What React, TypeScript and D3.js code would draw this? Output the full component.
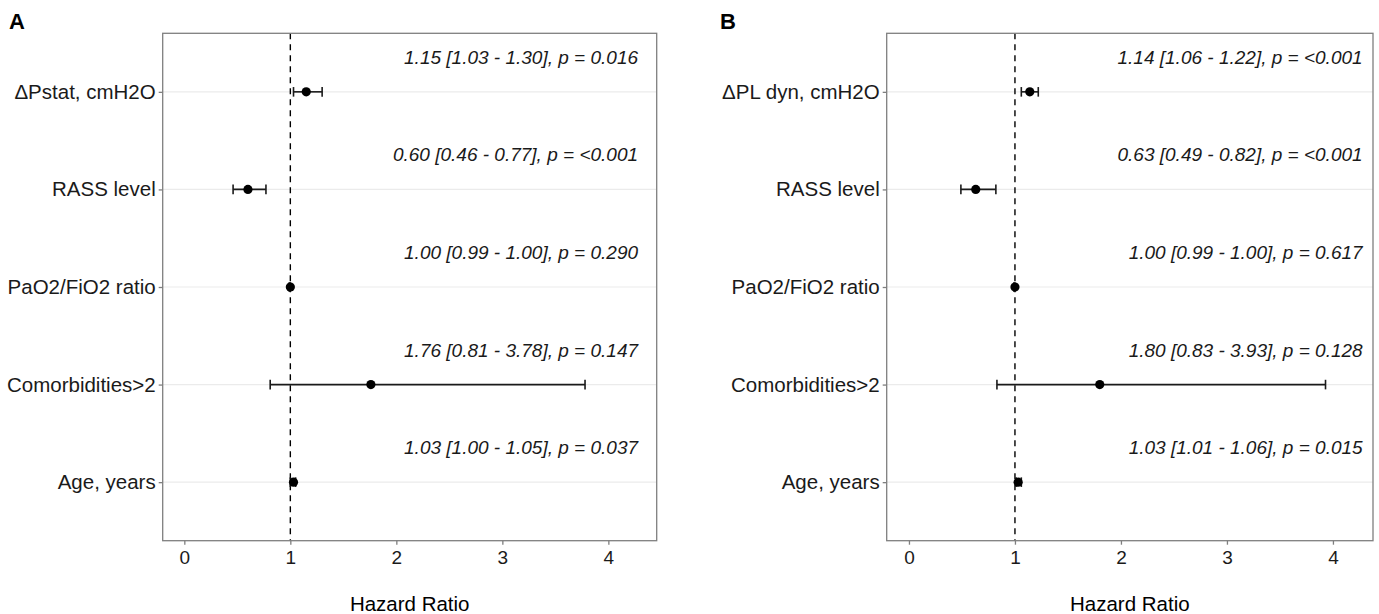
import React, { useEffect, useRef } from 'react';
import * as d3 from 'd3';

// variables, top to bottom
const labelsA = ['ΔPstat, cmH2O', 'RASS level', 'PaO2/FiO2 ratio', 'Comorbidities>2', 'Age, years'];
const labelsB = ['ΔPL dyn, cmH2O', 'RASS level', 'PaO2/FiO2 ratio', 'Comorbidities>2', 'Age, years'];

const hrA = [1.15, 0.60, 1.00, 1.76, 1.03];
const lowA = [1.03, 0.46, 0.99, 0.81, 1.00];
const highA = [1.30, 0.77, 1.00, 3.78, 1.05];
const pA = ['0.016', '<0.001', '0.290', '0.147', '0.037'];

const hrB = [1.14, 0.63, 1.00, 1.80, 1.03];
const lowB = [1.06, 0.49, 0.99, 0.83, 1.01];
const highB = [1.22, 0.82, 1.00, 3.93, 1.06];
const pB = ['<0.001', '<0.001', '0.617', '0.128', '0.015'];

const xTicks = [0, 1, 2, 3, 4];

const W = 1379;
const H = 614;

const font = 'Liberation Sans, Arial, Helvetica, sans-serif';

const drawPanel = (svg, opts) => {
  const { letter, letterX, left, right, domain, labels, hr, low, high, p } = opts;
  const top = 33.3;
  const bottom = 540.7;

  const x = d3.scaleLinear().domain(domain).range([left, right]);
  const y = d3.scalePoint().domain(labels).range([top, bottom]).padding(0.6);

  const g = svg.append('g');

  // panel letter
  g.append('text')
    .attr('x', letterX)
    .attr('y', 29)
    .attr('font-family', font)
    .attr('font-weight', 'bold')
    .attr('font-size', 22)
    .text(letter);

  // gridlines
  g.selectAll('.grid')
    .data(labels)
    .enter()
    .append('line')
    .attr('x1', left)
    .attr('x2', right)
    .attr('y1', d => y(d))
    .attr('y2', d => y(d))
    .attr('stroke', '#ebebeb')
    .attr('stroke-width', 1.2);

  // reference line at HR = 1
  g.append('line')
    .attr('x1', x(1))
    .attr('x2', x(1))
    .attr('y1', top)
    .attr('y2', bottom)
    .attr('stroke', '#000')
    .attr('stroke-width', 1.4)
    .attr('stroke-dasharray', '6,5');

  const rows = labels.map((l, i) => ({ label: l, hr: hr[i], low: low[i], high: high[i], p: p[i] }));

  // error bars
  const eb = g.selectAll('.eb').data(rows).enter().append('g')
    .attr('stroke', '#1a1a1a')
    .attr('stroke-width', 1.6);
  eb.append('line')
    .attr('x1', d => x(d.low))
    .attr('x2', d => x(d.high))
    .attr('y1', d => y(d.label))
    .attr('y2', d => y(d.label));
  eb.append('line')
    .attr('x1', d => x(d.low))
    .attr('x2', d => x(d.low))
    .attr('y1', d => y(d.label) - 4.8)
    .attr('y2', d => y(d.label) + 4.8);
  eb.append('line')
    .attr('x1', d => x(d.high))
    .attr('x2', d => x(d.high))
    .attr('y1', d => y(d.label) - 4.8)
    .attr('y2', d => y(d.label) + 4.8);
  eb.append('circle')
    .attr('cx', d => x(d.hr))
    .attr('cy', d => y(d.label))
    .attr('r', 4.6)
    .attr('stroke', 'none')
    .attr('fill', '#000');

  // annotations
  g.selectAll('.ann')
    .data(rows)
    .enter()
    .append('text')
    .attr('x', x(4.28))
    .attr('y', d => y(d.label) - 28)
    .attr('text-anchor', 'end')
    .attr('font-family', font)
    .attr('font-style', 'italic')
    .attr('font-size', 19)
    .attr('fill', '#1a1a1a')
    .text(d => `${d.hr.toFixed(2)} [${d.low.toFixed(2)} - ${d.high.toFixed(2)}], p = ${d.p}`);

  // panel border
  g.append('rect')
    .attr('x', left)
    .attr('y', top)
    .attr('width', right - left)
    .attr('height', bottom - top)
    .attr('fill', 'none')
    .attr('stroke', '#7f7f7f')
    .attr('stroke-width', 1.3);

  // x axis
  const xa = g.append('g')
    .attr('transform', `translate(0, ${bottom})`)
    .call(d3.axisBottom(x).tickValues(xTicks).tickSize(4).tickPadding(6).tickFormat(d3.format('d')));
  xa.select('.domain').remove();
  xa.selectAll('line').attr('stroke', '#7f7f7f').attr('stroke-width', 1.3);
  xa.selectAll('text')
    .attr('font-family', font)
    .attr('font-size', 19)
    .attr('fill', '#1a1a1a');

  // y axis
  const ya = g.append('g')
    .attr('transform', `translate(${left}, 0)`)
    .call(d3.axisLeft(y).tickSize(4).tickPadding(3));
  ya.select('.domain').remove();
  ya.selectAll('line').attr('stroke', '#7f7f7f').attr('stroke-width', 1.3);
  ya.selectAll('text')
    .attr('font-family', font)
    .attr('font-size', 20.5)
    .attr('fill', '#1a1a1a');

  // x axis title
  g.append('text')
    .attr('x', (left + right) / 2)
    .attr('y', 611)
    .attr('text-anchor', 'middle')
    .attr('font-family', font)
    .attr('font-size', 20.5)
    .attr('fill', '#000')
    .text('Hazard Ratio');
};

const App = () => {
  const ref = useRef(null);

  useEffect(() => {
    const svg = d3.select(ref.current);
    svg.selectAll('*').remove();

    drawPanel(svg, {
      letter: 'A', letterX: 9, left: 162.7, right: 656.7,
      domain: [-0.204, 4.456],
      labels: labelsA, hr: hrA, low: lowA, high: highA, p: pA,
    });
    drawPanel(svg, {
      letter: 'B', letterX: 720, left: 886.7, right: 1373,
      domain: [-0.21, 4.378],
      labels: labelsB, hr: hrB, low: lowB, high: highB, p: pB,
    });
  }, []);

  return (
    <svg ref={ref} width={W} height={H} style={{ position: 'absolute', left: 0, top: 0, background: '#fff' }} />
  );
};

export default App;
